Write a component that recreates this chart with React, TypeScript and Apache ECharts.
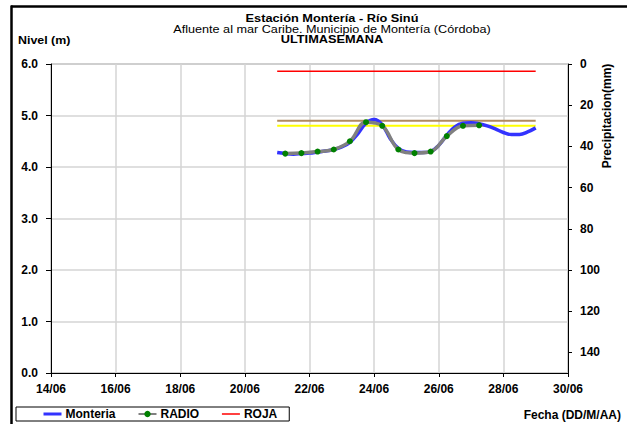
import React, { useEffect, useRef } from "react";
import * as echarts from "echarts";

// ---- data ----
const titleText = "Estación Montería - Río Sinú";
const subtitleText = "Afluente al mar Caribe. Municipio de Montería (Córdoba)";
const periodText = "ULTIMASEMANA";
const leftAxisName = "Nivel (m)";
const rightAxisName = "Precipitacion(mm)";
const xAxisName = "Fecha (DD/M/AA)";
const monthLabel = "06";

const monteriaTimes = [
  "21/06 00:00", "21/06 06:00", "21/06 12:00", "21/06 18:00",
  "22/06 00:00", "22/06 06:00", "22/06 12:00", "22/06 18:00",
  "23/06 00:00", "23/06 06:00", "23/06 12:00", "23/06 18:00",
  "24/06 00:00", "24/06 06:00", "24/06 12:00", "24/06 18:00",
  "25/06 00:00", "25/06 06:00", "25/06 12:00", "25/06 18:00",
  "26/06 00:00", "26/06 06:00", "26/06 12:00", "26/06 18:00",
  "27/06 00:00", "27/06 06:00", "27/06 12:00", "27/06 18:00",
  "28/06 00:00", "28/06 06:00", "28/06 12:00", "28/06 18:00",
  "29/06 00:00",
];
const monteriaValues = [
  4.28, 4.26, 4.25, 4.26,
  4.27, 4.29, 4.31, 4.34,
  4.39, 4.48, 4.65, 4.85,
  4.92, 4.82, 4.55, 4.36,
  4.29, 4.28, 4.28, 4.30,
  4.42, 4.62, 4.78, 4.85,
  4.86, 4.84, 4.80, 4.74,
  4.67, 4.63, 4.63, 4.68,
  4.76,
];

const radioTimes = [
  "21/06 06:00", "21/06 18:00", "22/06 06:00", "22/06 18:00",
  "23/06 06:00", "23/06 18:00", "24/06 06:00", "24/06 18:00",
  "25/06 06:00", "25/06 18:00", "26/06 06:00", "26/06 18:00",
  "27/06 06:00",
];
const radioValues = [
  4.26, 4.27, 4.30, 4.34,
  4.50, 4.87, 4.80, 4.34,
  4.27, 4.30, 4.60, 4.80,
  4.81,
];

const thresholdTimes = ["21/06 00:00", "29/06 00:00"];
const rojaLevel = 5.86;
const naranjaLevel = 4.9;
const amarillaLevel = 4.8;

// ---- helpers ----
const toDay = (s: string) => {
  const [d, t] = s.split(" ");
  const day = parseInt(d.split("/")[0], 10);
  const [h, m] = t.split(":").map((x) => parseInt(x, 10));
  return day + (h + m / 60) / 24;
};

const FONT = "'Liberation Sans', Arial, sans-serif";

export default function App() {
  const ref = useRef<HTMLDivElement>(null);

  useEffect(() => {
    if (!ref.current) return;
    const chart = echarts.init(ref.current, null, { renderer: "svg" });

    const monteriaData = monteriaTimes.map((t, i) => [toDay(t), monteriaValues[i]]);
    const radioData = radioTimes.map((t, i) => [toDay(t), radioValues[i]]);
    const level = (v: number) => thresholdTimes.map((t) => [toDay(t), v]);

    const labelStyle = { fontFamily: FONT, fontSize: 12, fontWeight: "bold" as const, color: "#000" };

    const headText = (text: string, x: number, y: number, bold: boolean, size: number, sx: number, align = "center") => ({
      type: "text",
      x,
      y,
      scaleX: sx,
      style: {
        text,
        fill: "#000",
        font: `${bold ? "bold " : ""}${size}px ${FONT}`,
        lineHeight: 10,
        align,
        verticalAlign: "middle",
      },
    });

    chart.setOption({
      animation: false,
      backgroundColor: "#fff",
      textStyle: { fontFamily: FONT },
      grid: {
        left: 51,
        right: 59,
        top: 64,
        bottom: 51,
        show: true,
        borderColor: "#808080",
        borderWidth: 1,
        backgroundColor: "transparent",
      },
      legend: {
        left: 16,
        top: 407,
        itemWidth: 18,
        itemHeight: 8,
        itemGap: 22,
        padding: [1, 12, 1, 26],
        borderColor: "#000",
        borderWidth: 1,
        borderRadius: 0,
        data: [
          { name: "Monteria", icon: "line", itemStyle: { borderWidth: 3, borderColor: "#3333ff" } },
          "RADIO",
          { name: "ROJA", icon: "line", itemStyle: { borderWidth: 1.5, borderColor: "#ff0000" } },
        ],
        textStyle: { ...labelStyle, padding: [0, 0, 0, -1] },
      },
      xAxis: {
        type: "value",
        min: 14,
        max: 30,
        interval: 2,
        axisLine: { show: true, lineStyle: { color: "#000", width: 1 } },
        axisTick: { show: true, length: 4, lineStyle: { color: "#000" } },
        axisLabel: {
          ...labelStyle,
          margin: 10,
          formatter: (v: number) => `${v}/${monthLabel}`,
        },
        splitLine: { show: true, lineStyle: { color: "#d4d4d4", width: 1.5 } },
      },
      yAxis: [
        {
          type: "value",
          min: 0,
          max: 6,
          interval: 1,
          axisLine: { show: true, lineStyle: { color: "#000", width: 1 } },
          axisTick: { show: true, length: 5, lineStyle: { color: "#000" } },
          axisLabel: {
            ...labelStyle,
            margin: 13,
            formatter: (v: number) => v.toFixed(1),
          },
          splitLine: { show: true, lineStyle: { color: "#d4d4d4", width: 1.5 } },
        },
        {
          type: "value",
          position: "right",
          inverse: true,
          min: 0,
          max: 150,
          interval: 20,
          axisLine: { show: true, onZero: false, lineStyle: { color: "#000", width: 1 } },
          axisTick: { show: true, length: 4, lineStyle: { color: "#000" } },
          axisLabel: { ...labelStyle, margin: 12, showMaxLabel: false },
          splitLine: { show: false },
        },
      ],
      series: [
        {
          name: "ROJA",
          type: "line",
          data: level(rojaLevel),
          symbol: "none",
          lineStyle: { color: "#ff0000", width: 1.5 },
          itemStyle: { color: "#ff0000" },
          silent: true,
        },
        {
          name: "NARANJA",
          type: "line",
          data: level(naranjaLevel),
          symbol: "none",
          lineStyle: { color: "#b08a60", width: 2 },
          itemStyle: { color: "#b08a60" },
          silent: true,
        },
        {
          name: "AMARILLA",
          type: "line",
          data: level(amarillaLevel),
          symbol: "none",
          lineStyle: { color: "#ffff00", width: 2 },
          itemStyle: { color: "#ffff00" },
          silent: true,
        },
        {
          name: "Monteria",
          type: "line",
          data: monteriaData,
          smooth: 0.4,
          symbol: "none",
          lineStyle: { color: "#3333ff", width: 3.5 },
          itemStyle: { color: "#3333ff" },
        },
        {
          name: "RADIO",
          type: "line",
          data: radioData,
          smooth: 0.4,
          symbol: "circle",
          symbolSize: 6,
          lineStyle: { color: "#808080", width: 3.5 },
          itemStyle: { color: "#008000" },
        },
      ],
      graphic: [
        {
          type: "line",
          shape: { x1: 11, y1: 6.5, x2: 627, y2: 6.5 },
          style: { stroke: "#000", lineWidth: 2.5 },
        },
        {
          type: "line",
          shape: { x1: 11.5, y1: 5.5, x2: 11.5, y2: 424 },
          style: { stroke: "#000", lineWidth: 2.5 },
        },
        headText(titleText, 332, 18, true, 11, 1.16),
        headText(subtitleText, 332, 28.8, false, 11, 1.15),
        headText(periodText, 332, 39.6, true, 11, 1.16),
        headText(leftAxisName, 18, 40, true, 11.5, 1.08, "left"),
        {
          type: "text",
          x: 607,
          y: 116,
          rotation: Math.PI / 2,
          style: { text: rightAxisName, fill: "#000", font: `bold 12px ${FONT}`, align: "center", verticalAlign: "middle" },
        },
        {
          type: "text",
          x: 621,
          y: 415,
          style: { text: xAxisName, fill: "#000", font: `bold 12px ${FONT}`, align: "right", verticalAlign: "middle" },
        },
      ],
    });

    return () => chart.dispose();
  }, []);

  return (
    <div
      ref={ref}
      style={{ position: "fixed", left: 0, top: 0, width: 627, height: 424 }}
    />
  );
}
